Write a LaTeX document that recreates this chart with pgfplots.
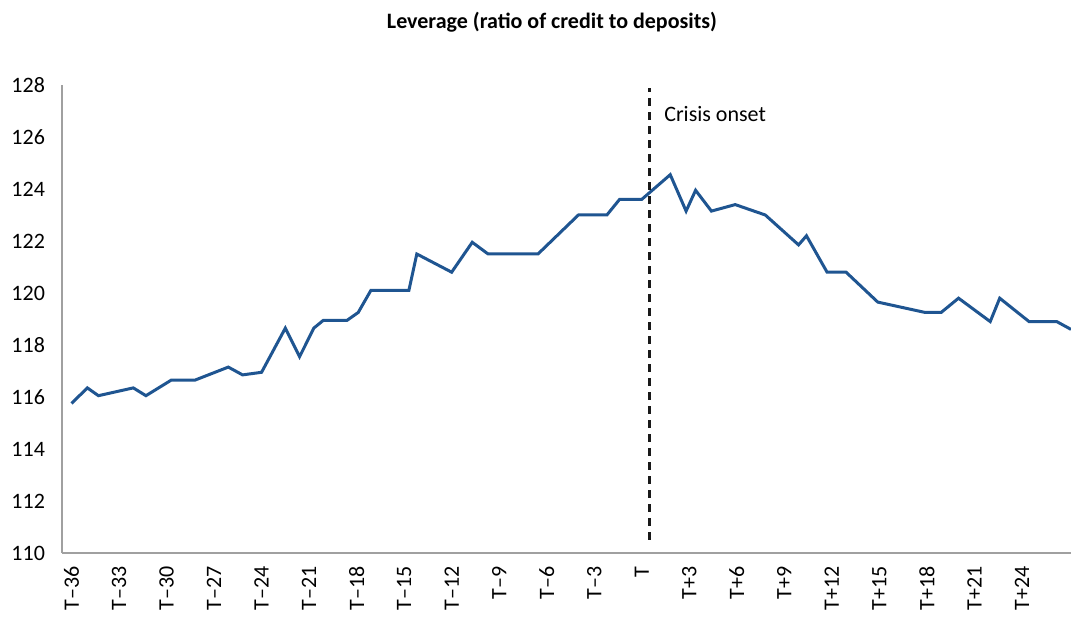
\documentclass[border=0pt]{standalone}
\usepackage{pgfplots}
\pgfplotsset{compat=1.18}
\usepackage{fontspec}
\setmainfont{Carlito}
\definecolor{lineblue}{HTML}{1F5591}
\definecolor{axisgray}{HTML}{A0A0A0}
\begin{document}
\begin{tikzpicture}
\useasboundingbox (-31pt,-35.5pt) rectangle (504.5pt,276.5pt);
\begin{axis}[
    at={(0,0)}, anchor=south west,
    scale only axis,
    width=504.5pt, height=234pt,
    xmin=-36.6, xmax=27.1,
    ymin=110, ymax=128,
    axis lines=left,
    axis line style={axisgray, line width=1.4pt, -},
    major tick length=0pt,
    ytick={110,112,...,128},
    xtick={-36,-33,...,24},
    xticklabels={T–36,T–33,T–30,T–27,T–24,T–21,T–18,T–15,T–12,T–9,T–6,T–3,T,T+3,T+6,T+9,T+12,T+15,T+18,T+21,T+24},
    x tick label style={rotate=90, anchor=east, font=\fontsize{11}{12}\selectfont, inner sep=0pt},
    y tick label style={font=\fontsize{11}{12}\selectfont},
    xticklabel shift=6.5pt,
    yticklabel shift=5pt,
    /pgf/number format/assume math mode=true,
]
    % leverage series
    \addplot[lineblue, line width=1.5pt] coordinates {
        (-36.0,115.75) (-35.0,116.35) (-34.3,116.05) (-32.1,116.35) (-31.3,116.05)
        (-29.7,116.65) (-28.2,116.65) (-26.1,117.15) (-25.2,116.85) (-24.0,116.95)
        (-22.5,118.65) (-21.6,117.55) (-20.7,118.65) (-20.1,118.95) (-18.6,118.95)
        (-17.9,119.25) (-17.1,120.1) (-14.7,120.1) (-14.2,121.5) (-12.0,120.8)
        (-10.7,121.95) (-9.7,121.5) (-6.55,121.5) (-4.0,123.0) (-2.2,123.0)
        (-1.4,123.6) (0.0,123.6) (1.8,124.55) (2.8,123.15) (3.4,123.95)
        (4.4,123.15) (5.9,123.4) (7.8,123.0) (9.9,121.85) (10.4,122.2)
        (11.7,120.8) (12.9,120.8) (14.9,119.65) (17.9,119.25) (18.9,119.25)
        (20.0,119.8) (22.0,118.9) (22.6,119.8) (24.45,118.9) (26.2,118.9)
        (27.1,118.6)
    };
    % crisis onset marker
    \addplot[black!90, line width=1.6pt, dash pattern=on 4pt off 3pt] coordinates {(0.5,110.5) (0.5,127.9)};
    \node[anchor=west, font=\fontsize{11}{12}\selectfont, inner sep=0pt] at (axis cs:1.4,126.9) {Crisis onset};
\end{axis}
\node[font=\bfseries\fontsize{11}{12}\selectfont] at (245pt,265.5pt) {Leverage (ratio of credit to deposits)};
\end{tikzpicture}
\end{document}
